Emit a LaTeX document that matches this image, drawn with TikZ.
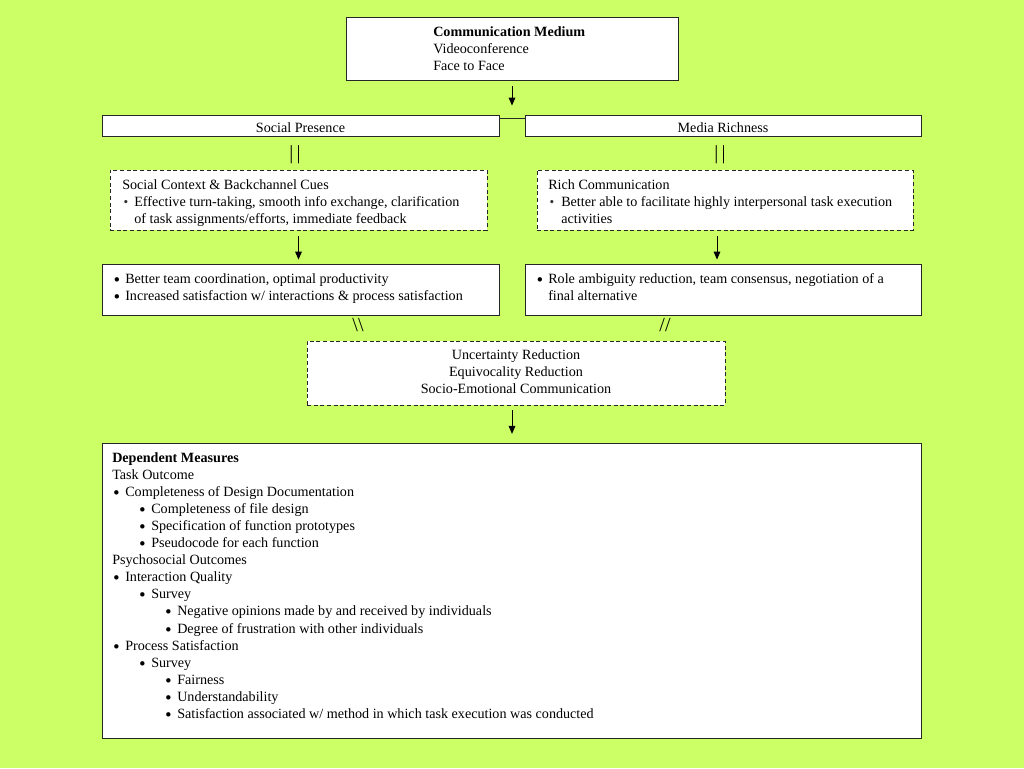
\documentclass[tikz,border=0pt]{standalone}
\usepackage{fontspec}
\setmainfont{Liberation Serif}
\usetikzlibrary{fit,calc,arrows.meta}
\definecolor{bg}{RGB}{204,255,102}
\begin{document}
\begin{tikzpicture}[x=0.75pt,y=-0.75pt,
  box/.style={draw=black!85, fill=white, line width=0.65pt, inner sep=0pt},
  dbox/.style={box, dash pattern=on 3pt off 2pt},
  tl/.style={anchor=base west, inner sep=0pt, font=\fontsize{10.6}{12}\selectfont},
  tc/.style={anchor=base, inner sep=0pt, font=\fontsize{10.6}{12}\selectfont},
  bul/.style={anchor=base, inner sep=0pt, font=\fontsize{8}{10}\selectfont},
  sbul/.style={anchor=base, inner sep=0pt, font=\fontsize{10}{12}\selectfont, text=black!80},
  mk/.style={anchor=base, inner sep=0pt, font=\fontsize{15}{17}\selectfont},
  arr/.style={-{Triangle[length=6pt,width=5pt]}, line width=0.7pt},
  ln/.style={line width=0.65pt, draw=black!85},
]
\fill[bg] (0,0) rectangle (1024,768);
\useasboundingbox (0,0) rectangle (1024,768);

% boxes
\node[box, fit={(346,17) (678,80)}] (cm) {};
\node[box, fit={(102,115) (499,136)}] (sp) {};
\node[box, fit={(525,115) (921,136)}] (mr) {};
\node[dbox, fit={(110,170) (487,230)}] (sc) {};
\node[dbox, fit={(537,170) (913,230)}] (rc) {};
\node[box, fit={(102,264) (499,315)}] (bt) {};
\node[box, fit={(525,264) (921,315)}] (rr) {};
\node[dbox, fit={(307,341) (725,405)}] (ur) {};
\node[box, fit={(102,443) (921,738)}] (dm) {};

% top box text
\node[tl] (cm1) at (433,36) {\textbf{Communication Medium}};
\node[tl] (cm2) at (433,53) {Videoconference};
\node[tl] (cm3) at (433,70) {Face to Face};

\node[tc] (spt) at (300.5,132.5) {Social Presence};
\node[tc] (mrt) at (723,132.5) {Media Richness};

% social context
\node[tl] (sc1) at (122,189.5) {Social Context \& Backchannel Cues};
\node[sbul] (scb) at (126,206.5) {•};
\node[tl] (sc2) at (134,206.5) {Effective turn-taking, smooth info exchange, clarification};
\node[tl] (sc3) at (134,223.5) {of task assignments/efforts, immediate feedback};

% rich communication
\node[tl] (rc1) at (548,189.5) {Rich Communication};
\node[sbul] (rcb) at (552,206.5) {•};
\node[tl] (rc2) at (561,206.5) {Better able to facilitate highly interpersonal task execution};
\node[tl] (rc3) at (561,223.5) {activities};

% outcome boxes
\node[bul] (btb1) at (117,282.5) {$\bullet$};
\node[tl] (bt1) at (125,283.5) {Better team coordination, optimal productivity};
\node[bul] (btb2) at (117,299.5) {$\bullet$};
\node[tl] (bt2) at (125,300.5) {Increased satisfaction w/ interactions \& process satisfaction};
\node[bul] (rrb1) at (540,282.5) {$\bullet$};
\node[tl] (rr1) at (548,283.5) {Role ambiguity reduction, team consensus, negotiation of a};
\node[tl] (rr2) at (548,300.5) {final alternative};

% center dashed
\node[tc] (ur1) at (516,359.5) {Uncertainty Reduction};
\node[tc] (ur2) at (516,376.5) {Equivocality Reduction};
\node[tc] (ur3) at (516,393.5) {Socio-Emotional Communication};

% marks
\node[mk] (m1) at (295,159) {|\,|};
\node[mk] (m2) at (720,159) {|\,|};
\node[mk] (m3) at (358,331) {\textbackslash\textbackslash};
\node[mk] (m4) at (665,331) {//};

% dependent measures
\foreach \lv/\t [count=\i from 0] in {
  0/{\textbf{Dependent Measures}},
  0/{Task Outcome},
  1/{Completeness of Design Documentation},
  2/{Completeness of file design},
  2/{Specification of function prototypes},
  2/{Pseudocode for each function},
  0/{Psychosocial Outcomes},
  1/{Interaction Quality},
  2/{Survey},
  3/{Negative opinions made by and received by individuals},
  3/{Degree of frustration with other individuals},
  1/{Process Satisfaction},
  2/{Survey},
  3/{Fairness},
  3/{Understandability},
  3/{Satisfaction associated w/ method in which task execution was conducted}}{
  \pgfmathsetmacro\xx{{112,125,151,177}[\lv]}
  \pgfmathsetmacro\yy{462.5+17.05*\i}
  \node[tl] (dm\i) at (\xx,\yy) {\t};
  \ifnum\lv>0
    \node[bul] (dmb\i) at (\xx-8.5,\yy-1) {$\bullet$};
  \fi
}

% connectors
\draw[arr, shorten <=4.5pt, shorten >=6.75pt] (cm.south) -- (cm.south |- sp.north);
\coordinate (j1) at ($(sp.north east)+(0,4)$);
\draw[ln] (j1) -- (j1 -| mr.west);
\draw[arr, shorten <=4.5pt, shorten >=3pt] (sc.south) -- (sc.south |- bt.north);
\coordinate (a2) at ($(rc.south)+(-8,0)$);
\draw[arr, shorten <=4.5pt, shorten >=3pt] (a2) -- (a2 |- rr.north);
\coordinate (a3) at ($(ur.south)+(-4,0)$);
\draw[arr, shorten <=3.5pt, shorten >=6.5pt] (a3) -- (a3 |- dm.north);
\end{tikzpicture}
\end{document}
